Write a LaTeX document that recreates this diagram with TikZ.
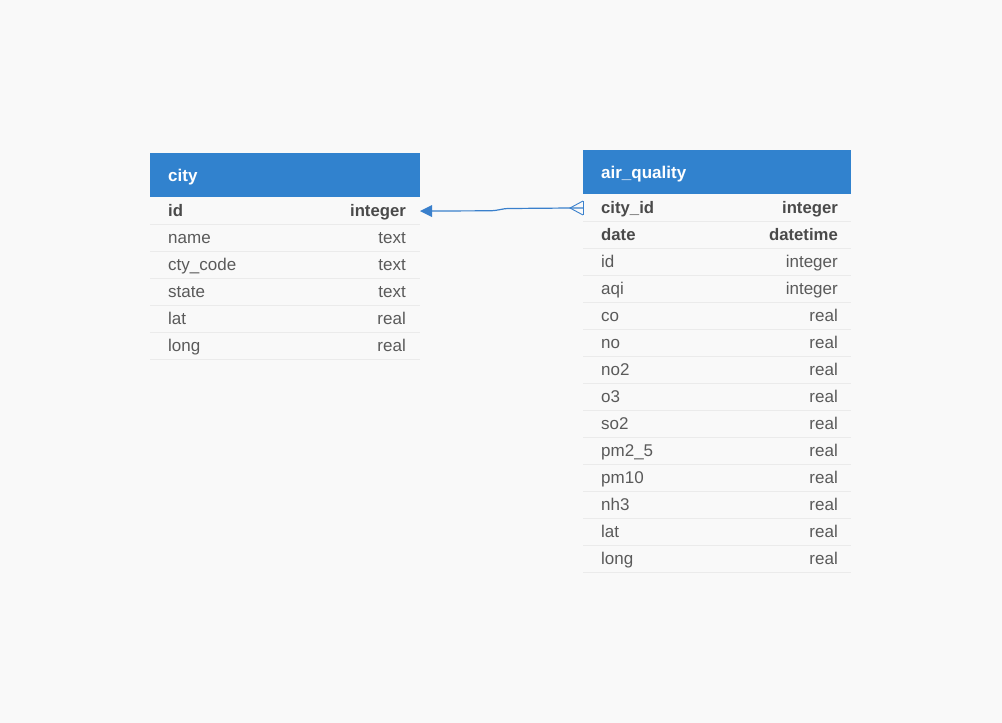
\documentclass[tikz,border=0pt]{standalone}
\usepackage{fontspec}
\setmainfont{Liberation Sans}
\definecolor{bgc}{HTML}{F9F9F9}
\definecolor{hdr}{HTML}{3182CE}
\definecolor{txt}{HTML}{5A5A5A}
\definecolor{txtb}{HTML}{4A4A4A}
\definecolor{sep}{HTML}{EBEBEB}
\definecolor{lnk}{HTML}{3A80CC}
\tikzset{
  hdrbox/.style={fill=hdr, draw=none},
  title/.style={anchor=base west, text=white, font=\fontsize{17}{18}\selectfont\bfseries, inner sep=0pt},
  fname/.style={anchor=base west, text=txt, font=\fontsize{17}{19}\selectfont, inner sep=0pt},
  ftype/.style={anchor=base east, text=txt, font=\fontsize{17}{19}\selectfont, inner sep=0pt},
  fnameb/.style={anchor=base west, text=txtb, font=\fontsize{16.7}{19}\selectfont\bfseries, inner sep=0pt},
  ftypeb/.style={anchor=base east, text=txtb, font=\fontsize{16.7}{19}\selectfont\bfseries, inner sep=0pt},
  rowsep/.style={draw=sep, line width=1pt},
  link/.style={draw=lnk, line width=1.2pt},
}
\begin{document}
\begin{tikzpicture}[x=1pt,y=-1pt]
\useasboundingbox (0,0) rectangle (1002,723);
\fill[bgc] (0,0) rectangle (1002,723);

% city table
\fill[hdrbox] (150,153) rectangle (420,197);
\node[title] (cityt) at (168,181) {city};
\foreach \n/\t/\b [count=\i from 0] in {id/integer/1,name/text/0,cty\_code/text/0,state/text/0,lat/real/0,long/real/0}{
  \pgfmathsetmacro{\yc}{197+27*\i+19}
  \pgfmathsetmacro{\yl}{197+27*(\i+1)}
  \ifnum\b=1
    \node[fnameb] (cn\i) at (168,\yc) {\n};
    \node[ftypeb] (ct\i) at (406,\yc) {\t};
  \else
    \node[fname] (cn\i) at (168,\yc) {\n};
    \node[ftype] (ct\i) at (406,\yc) {\t};
  \fi
  \draw[rowsep] (150,\yl) -- (420,\yl);
}
\coordinate (cityid) at (420,211);

% air_quality table
\fill[hdrbox] (583,150) rectangle (851,194);
\node[title] (aqt) at (601,178) {air\_quality};
\foreach \n/\t/\b [count=\i from 0] in {city\_id/integer/1,date/datetime/1,id/integer/0,aqi/integer/0,co/real/0,no/real/0,no2/real/0,o3/real/0,so2/real/0,pm2\_5/real/0,pm10/real/0,nh3/real/0,lat/real/0,long/real/0}{
  \pgfmathsetmacro{\yc}{194+27*\i+19}
  \pgfmathsetmacro{\yl}{194+27*(\i+1)}
  \ifnum\b=1
    \node[fnameb] (an\i) at (601,\yc) {\n};
    \node[ftypeb] (at\i) at (838,\yc) {\t};
  \else
    \node[fname] (an\i) at (601,\yc) {\n};
    \node[ftype] (at\i) at (838,\yc) {\t};
  \fi
  \draw[rowsep] (583,\yl) -- (851,\yl);
}
\coordinate (aqcityid) at (583,208);
\coordinate (crowtip) at (570,208);

% connector
\draw[link] (aqcityid) -- (crowtip) -- (510,208.5) .. controls (500,208.5) and (500,210.8) .. (488,210.8) -- (432,211);
\fill[lnk] (cityid) -- (432,205) -- (432,217) -- cycle;
\draw[link, line width=0.9pt] (583,201) -- (crowtip) -- (583,215);
\draw[link, line width=0.9pt] (583,201) -- (583,215);
\end{tikzpicture}
\end{document}
